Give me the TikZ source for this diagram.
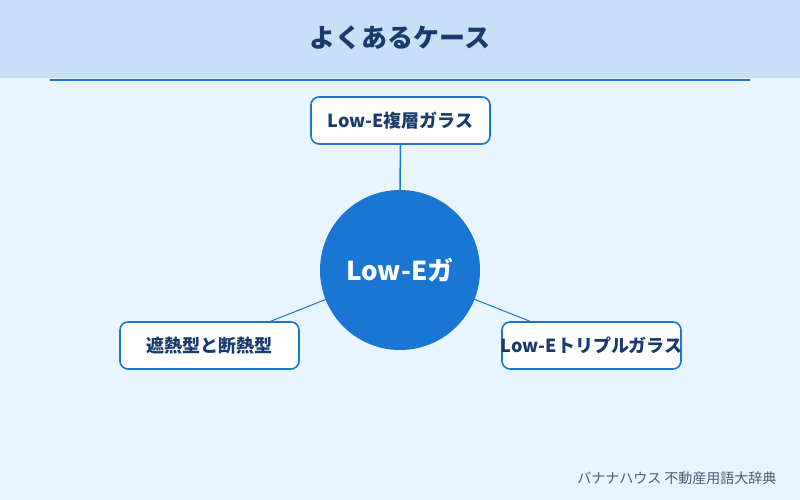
\documentclass[tikz,border=0pt]{standalone}
\usepackage{fontspec}
\setmainfont{Noto Sans CJK JP}
\definecolor{hdr}{HTML}{C8E0F7}
\definecolor{bg}{HTML}{E8F4FE}
\definecolor{blu}{HTML}{1976D2}
\definecolor{navy}{HTML}{1A3A6B}
\definecolor{foot}{HTML}{4A5A78}
\pgfdeclarelayer{back}
\pgfdeclarelayer{lines}
\pgfsetlayers{back,lines,main}
\tikzset{
  leaf/.style={draw=blu, line width=1.6pt, fill=white, rounded corners=8pt,
    minimum width=179pt, minimum height=47pt, inner sep=0pt,
    font=\fontsize{18pt}{21pt}\selectfont\bfseries, text=navy},
  link/.style={draw=blu, line width=1pt}
}
\begin{document}
\begin{tikzpicture}[x=1pt,y=-1pt]
\useasboundingbox (0,0) rectangle (800,500);
\begin{pgfonlayer}{back}
\fill[bg] (0,0) rectangle (800,500);
\fill[hdr] (0,0) rectangle (800,78);
\draw[blu, line width=2pt] (50,80) -- (750,80);
\end{pgfonlayer}
\node[font=\fontsize{26pt}{30pt}\selectfont\bfseries, text=navy] (title) at (400,38) {よくあるケース};
\node[circle, fill=blu, minimum size=160pt, inner sep=0pt, font=\fontsize{26pt}{30pt}\selectfont\bfseries, text=white] (c) at (400,270) {Low-Eガ};
\node[leaf] (t) at (400.5,120.5) {Low-E複層ガラス};
\node[leaf] (l) at (209.5,345.5) {遮熱型と断熱型};
\node[leaf] (r) at (591.5,345.5) {\makebox[160pt][c]{Low-Eトリプルガラス}};
\begin{pgfonlayer}{lines}
\draw[link, line width=1.5pt] (t.south) -- (c.north);
\draw[link] (c.center) -- (l.center);
\draw[link] (c.center) -- (r.center);
\end{pgfonlayer}
\node[anchor=east, font=\fontsize{14pt}{16pt}\selectfont, text=foot] (f) at (780,478) {バナナハウス 不動産用語大辞典};
\end{tikzpicture}
\end{document}
